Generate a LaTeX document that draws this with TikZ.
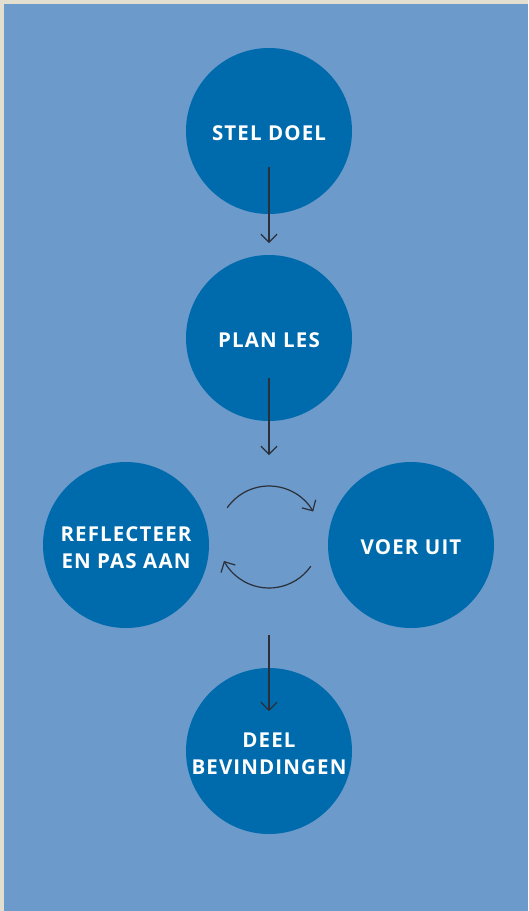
\documentclass[tikz,border=0pt]{standalone}
\usepackage{fontspec}
\setmainfont{Open Sans}[LetterSpace=5.5]
\usetikzlibrary{arrows.meta}
\definecolor{bgblue}{HTML}{6B9ACB}
\definecolor{circblue}{HTML}{006BAC}
\definecolor{edgebeige}{HTML}{E2DFD1}
\definecolor{arrowgray}{HTML}{2B2F3A}
\begin{document}
\begin{tikzpicture}[x=1pt,y=-1pt,
  stage/.style={circle,fill=circblue,minimum size=166pt,inner sep=0pt},
  stagetext/.style={inner sep=0pt,text=white,font=\bfseries\fontsize{20.5}{27}\selectfont,align=center},
  conn/.style={draw=arrowgray,line width=1.2pt,-{Straight Barb[length=8pt,width=16pt,line width=1.2pt]}}]
\fill[edgebeige] (0,0) rectangle (528,911);
\fill[bgblue] (4,4) rectangle (528,911);
\useasboundingbox (0,0) rectangle (528,911);
\node[stage] (goal) at (269,131) {};
\node[stage] (plan) at (269,338) {};
\node[stage] (refl) at (126,545) {};
\node[stage] (exec) at (411,545) {};
\node[stage] (share) at (269,751) {};
\node[stagetext] (goal-t) at ([yshift=-2.5pt]goal.center) {STEL DOEL};
\node[stagetext] (plan-t) at ([yshift=-2.5pt]plan.center) {PLAN LES};
\node[stagetext] (refl-t) at ([yshift=-2.5pt]refl.center) {REFLECTEER\\EN PAS AAN};
\node[stagetext] (exec-t) at ([yshift=-2.5pt]exec.center) {VOER UIT};
\node[stagetext] (share-t) at ([yshift=-2.5pt]share.center) {DEEL\\BEVINDINGEN};
\coordinate (a1e) at (269,243);
\coordinate (a2e) at (269,455);
\coordinate (a3s) at (269,635);
\coordinate (a3e) at (269,711);
\coordinate (cyc) at (269,537);
\draw[conn] (269,167) -- (a1e);
\draw[conn] (269,378) -- (a2e);
\draw[conn] (a3s) -- (a3e);
\draw[conn] ([shift={(145:51pt)}]cyc) arc[start angle=145,end angle=30,radius=51pt];
\draw[conn] ([shift={(-35:51pt)}]cyc) arc[start angle=-35,end angle=-152,radius=51pt];
\end{tikzpicture}
\end{document}
